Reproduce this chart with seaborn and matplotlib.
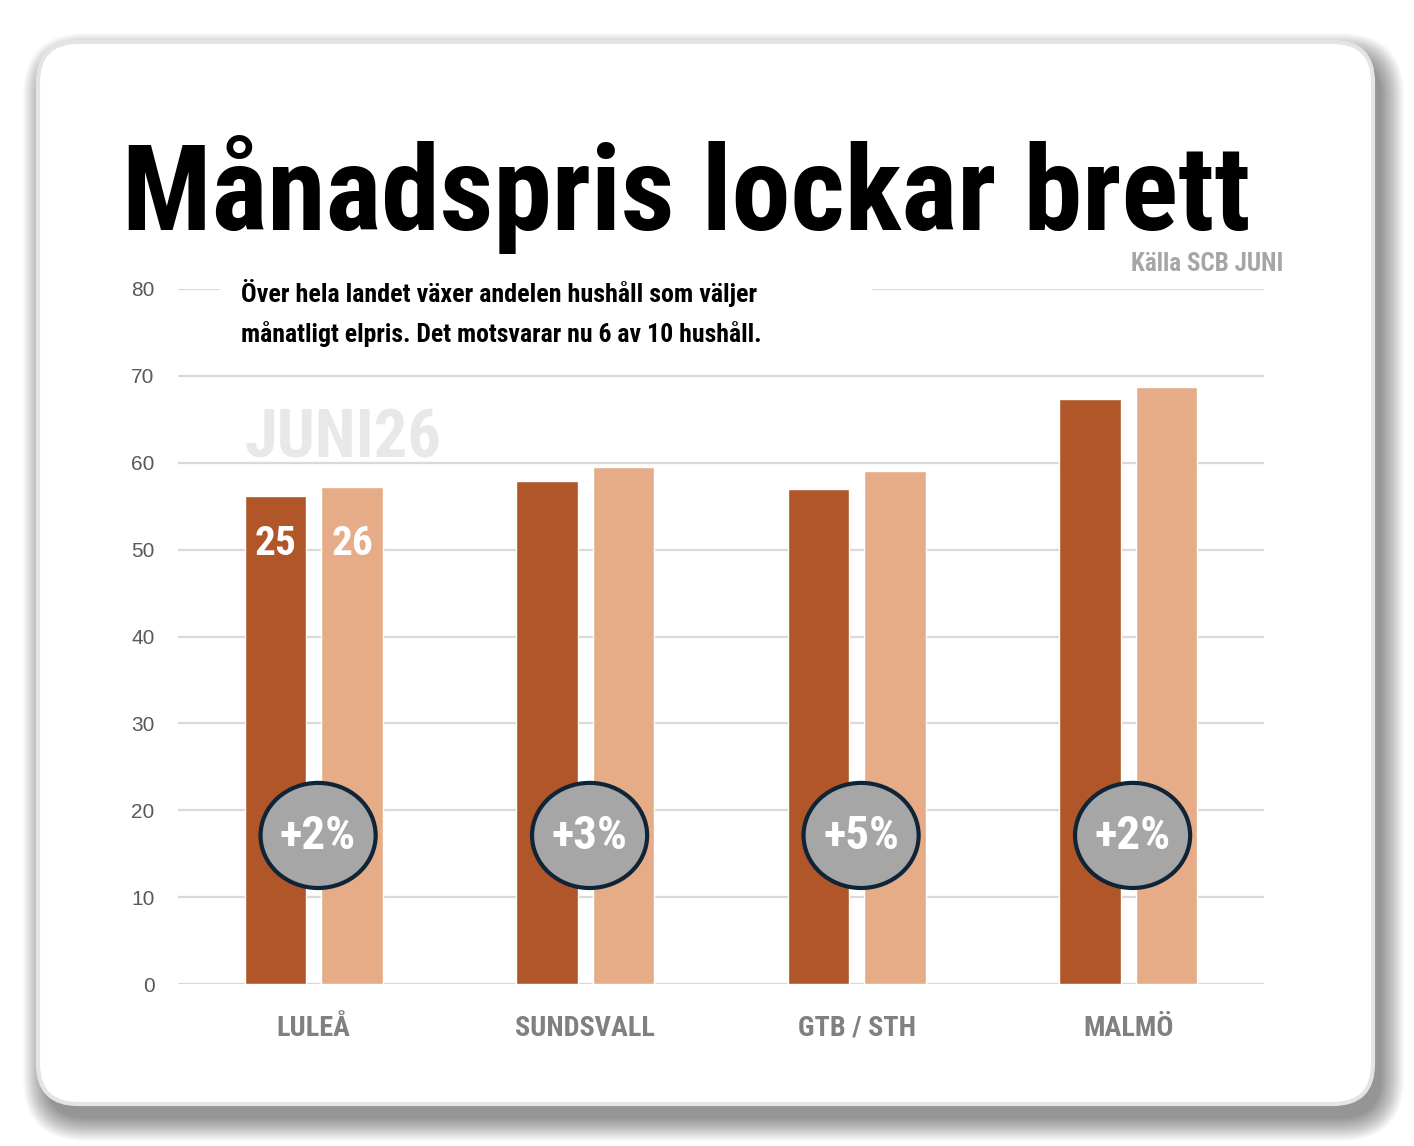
import matplotlib
matplotlib.use("Agg")
import matplotlib.pyplot as plt
import seaborn as sns
import pandas as pd
from matplotlib import font_manager as fm
from matplotlib.patches import FancyBboxPatch, Ellipse, Rectangle

# ---------------- data ----------------
cities = ["LULEÅ", "SUNDSVALL", "GTB / STH", "MALMÖ"]
years = ["25", "26"]
share_25 = [56.2, 57.9, 57.0, 67.3]
share_26 = [57.2, 59.5, 59.0, 68.7]
changes = ["+2%", "+3%", "+5%", "+2%"]
yticks = [0, 10, 20, 30, 40, 50, 60, 70, 80]

title = "Månadspris lockar brett"
source = "Källa SCB JUNI"
subtitle_lines = ["Över hela landet växer andelen hushåll som väljer",
                  "månatligt elpris. Det motsvarar nu 6 av 10 hushåll."]
watermark = "JUNI26"

DARK = "#B05628"
LIGHT = "#E6AC88"

# ---------------- fonts ----------------
avail = {f.name for f in fm.fontManager.ttflist}


def pick_condensed():
    prefs = ["Roboto Condensed", "Noto Sans ExtraCondensed", "Noto Sans Condensed",
             "Open Sans Condensed", "Liberation Sans Narrow", "Noto Sans SemiCondensed"]
    for p in prefs:
        if p in avail:
            return dict(family=p)
    for fam in ["Noto Sans", "Roboto", "Open Sans", "DejaVu Sans"]:
        for f in fm.fontManager.ttflist:
            if f.name == fam and f.stretch in ("condensed", "extra-condensed", "semi-condensed"):
                return dict(family=fam, stretch=f.stretch)
    return dict(family="DejaVu Sans")


COND = pick_condensed()
REG = "Liberation Sans" if "Liberation Sans" in avail else "DejaVu Sans"

sns.set_theme(style="white")
plt.rcParams["font.family"] = [COND["family"], "DejaVu Sans"]

W, H = 1414, 1146
fig = plt.figure(figsize=(W / 100, H / 100), dpi=100)
fig.patch.set_facecolor("white")

# background axes in pixel coordinates (y downward)
bg = fig.add_axes([0, 0, 1, 1], zorder=-2)
bg.set_xlim(0, W)
bg.set_ylim(H, 0)
bg.axis("off")

cx, cy, cw, ch = 38, 42, 1335, 1062
# soft blurred drop shadow
for k in range(0, 24):
    bg.add_patch(FancyBboxPatch((cx + 8 - k, cy + 14 - k), cw + 2 * k, ch + 2 * k,
                                boxstyle=f"round,pad=0,rounding_size={40 + k}",
                                facecolor="black", edgecolor="none", alpha=0.02))
bg.add_patch(FancyBboxPatch((cx, cy), cw, ch, boxstyle="round,pad=0,rounding_size=40",
                            facecolor="white", edgecolor="#E4E4E4", linewidth=3))

# ---------------- main chart ----------------
ax = fig.add_axes([178 / W, 1 - 984 / H, (1264 - 178) / W, (984 - 289) / H])
ax.set_facecolor("none")

df = pd.DataFrame({
    "city": cities * 2,
    "year": [years[0]] * len(cities) + [years[1]] * len(cities),
    "share": share_25 + share_26,
})
sns.barplot(data=df, x="city", y="share", hue="year", hue_order=years,
            palette=[DARK, LIGHT], width=0.566, gap=0.2, saturation=1,
            legend=False, ax=ax)

ax.set_ylim(0, 80)
ax.set_xlim(-0.5, len(cities) - 0.5)
ax.set_yticks(yticks)
ax.yaxis.grid(True, color="#D9D9D9", linewidth=1.6)
ax.set_axisbelow(True)
for s in ax.spines.values():
    s.set_visible(False)
ax.set_xlabel("")
ax.set_ylabel("")
ax.tick_params(axis="y", length=0, pad=17, labelsize=15, labelcolor="#595959")
ax.tick_params(axis="x", length=0, pad=22)
for lab in ax.get_yticklabels():
    lab.set_fontfamily(REG)

renderer = fig.canvas.get_renderer()


def fit(t, target_w, max_pt):
    t.set_fontsize(max_pt)
    w = t.get_window_extent(renderer).width
    if w > target_w:
        t.set_fontsize(max_pt * target_w / w)
    return t.get_fontsize()


# x tick labels: size from widest label
probe = fig.text(0, 0, "SUNDSVALL", fontweight="bold", **COND)
xsize = fit(probe, 140, 27)
probe.remove()
for lab in ax.get_xticklabels():
    lab.set_fontweight("bold")
    lab.set_color("#808080")
    lab.set_fontsize(xsize)
    if "stretch" in COND:
        lab.set_fontstretch(COND["stretch"])

# labels inside first group
for h, yr in enumerate(years):
    bar = ax.containers[h][0]
    xc = bar.get_x() + bar.get_width() / 2
    t = ax.text(xc, 50.7, yr, color="white", fontweight="bold", ha="center",
                va="center", zorder=5, **COND)
    fit(t, 42, 36)

# change badges
for i, c in enumerate(changes):
    ax.add_patch(Ellipse((i + 0.016, 17.1), 0.424, 12.1, facecolor="#A6A6A6",
                         edgecolor="#0F2537", linewidth=3, zorder=6))
    t = ax.text(i + 0.016, 17.0, c, color="white", fontweight="bold", ha="center",
                va="center", zorder=7, **COND)
    fit(t, 76, 40)

# ---------------- texts ----------------
tt = fig.text(122, 230, title, transform=bg.transData, ha="left", va="baseline",
              fontweight="heavy", color="black", **COND)
fit(tt, 1128, 104)

st = fig.text(1283, 271, source, transform=bg.transData, ha="right", va="baseline",
              fontweight="bold", color="#A6A6A6", **COND)
fit(st, 152, 22)

# white mask behind subtitle over the top gridline
fig.add_artist(Rectangle((220, 282), 652, 14, transform=bg.transData,
                         facecolor="white", edgecolor="none", zorder=2.5))
for line, yb, wt in zip(subtitle_lines, [302, 342], [516, 520]):
    s = fig.text(241, yb, line, transform=bg.transData, ha="left", va="baseline",
                 fontweight="bold", color="black", zorder=3, **COND)
    fit(s, wt, 22)

wm = fig.text(245, 457, watermark, transform=bg.transData, ha="left", va="baseline",
              fontweight="bold", color="#E8E8E8", **COND)
fit(wm, 197, 64)

fig.savefig("out.png", dpi=100)
